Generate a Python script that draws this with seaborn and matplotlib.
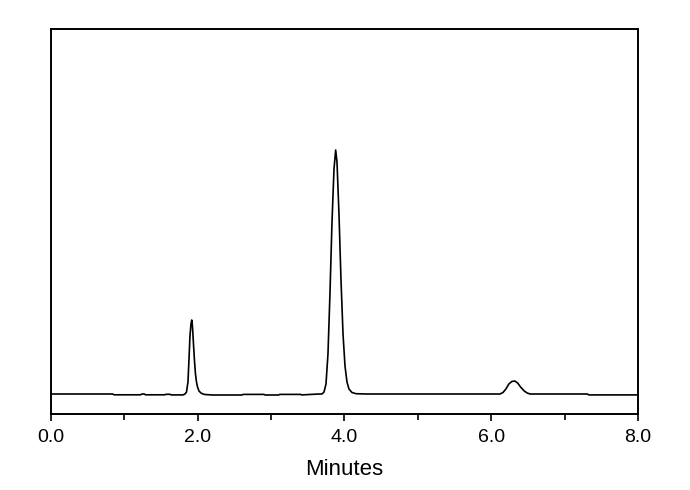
import matplotlib
matplotlib.use("Agg")
import matplotlib.pyplot as plt
import seaborn as sns
import pandas as pd
from matplotlib.ticker import MultipleLocator, FormatStrFormatter

# ---- data (time in minutes, detector signal in arbitrary units) ----
baseline_a_time = [0.00, 0.84, 0.86, 1.22, 1.24, 1.27, 1.29, 1.55, 1.57, 1.62, 1.64, 1.80]
baseline_a_sig  = [0.0, 0.0, -0.8, -0.8, 0.0, 0.0, -0.8, -0.8, -0.3, -0.3, -0.9, -0.9]

peak1_time = [1.826, 1.847, 1.867, 1.881, 1.894, 1.908, 1.918, 1.928, 1.942, 1.956,
              1.969, 1.983, 1.997, 2.017, 2.044, 2.071]
peak1_sig  = [0.0, 2.0, 12.0, 35.0, 58.0, 70.0, 74.0, 68.0, 50.0, 33.0,
              20.0, 12.0, 7.0, 3.0, 1.0, 0.0]

baseline_b_time = [2.10, 2.20, 2.60, 2.62, 2.90, 2.92, 3.10, 3.12, 3.40, 3.42, 3.60, 3.66]
baseline_b_sig  = [-0.5, -1.0, -1.0, -0.4, -0.4, -1.0, -1.0, -0.4, -0.4, -0.9, -0.2, 0.0]

peak2_time = [3.693, 3.721, 3.748, 3.775, 3.802, 3.829, 3.857, 3.880, 3.898, 3.925,
              3.952, 3.980, 4.007, 4.034, 4.061, 4.102, 4.157]
peak2_sig  = [0.0, 2.0, 10.0, 40.0, 100.0, 170.0, 225.0, 244.0, 232.0, 180.0,
              115.0, 60.0, 28.0, 12.0, 5.0, 1.5, 0.3]

baseline_c_time = [4.30, 5.00, 6.10]
baseline_c_sig  = [0.0, 0.0, 0.0]

peak3_time = [6.12, 6.16, 6.20, 6.24, 6.28, 6.32, 6.36, 6.40, 6.45, 6.49, 6.53]
peak3_sig  = [0.0, 1.5, 5.0, 10.0, 12.5, 13.0, 11.0, 7.0, 3.0, 1.0, 0.0]

baseline_d_time = [6.60, 7.31, 7.33, 8.00]
baseline_d_sig  = [0.0, 0.0, -0.9, -0.9]

x_tick_major = [0.0, 2.0, 4.0, 6.0, 8.0]
x_label = "Minutes"

# ---- assemble ----
time = (baseline_a_time + peak1_time + baseline_b_time + peak2_time +
        baseline_c_time + peak3_time + baseline_d_time)
sig = (baseline_a_sig + peak1_sig + baseline_b_sig + peak2_sig +
       baseline_c_sig + peak3_sig + baseline_d_sig)
df = pd.DataFrame({"Minutes": time, "Signal": sig})

sns.set_theme(style="ticks")
plt.rcParams["font.family"] = ["Liberation Sans", "DejaVu Sans"]

fig = plt.figure(figsize=(6.9, 4.9), dpi=100)
ax = fig.add_axes([0.0739, 0.1551, 0.8507, 0.7857])

sns.lineplot(data=df, x="Minutes", y="Signal", ax=ax, color="black",
             linewidth=1.2, estimator=None, sort=False)

ax.set_xlim(0, 8)
ax.set_ylim(-20, 365)
ax.set_xticks(x_tick_major)
ax.xaxis.set_major_formatter(FormatStrFormatter("%.1f"))
ax.xaxis.set_minor_locator(MultipleLocator(1.0))
ax.set_yticks([])
ax.set_ylabel("")
ax.set_xlabel(x_label, fontsize=16, labelpad=9, color="black")

for s in ax.spines.values():
    s.set_visible(True)
    s.set_linewidth(1.4)
    s.set_color("black")

ax.tick_params(axis="x", which="major", direction="out", length=5, width=1.2,
               labelsize=14, pad=6, colors="black")
ax.tick_params(axis="x", which="minor", direction="out", length=4, width=1.2,
               colors="black")
ax.tick_params(axis="x", top=False, which="both")

fig.savefig("out.png", dpi=100, facecolor="white")
